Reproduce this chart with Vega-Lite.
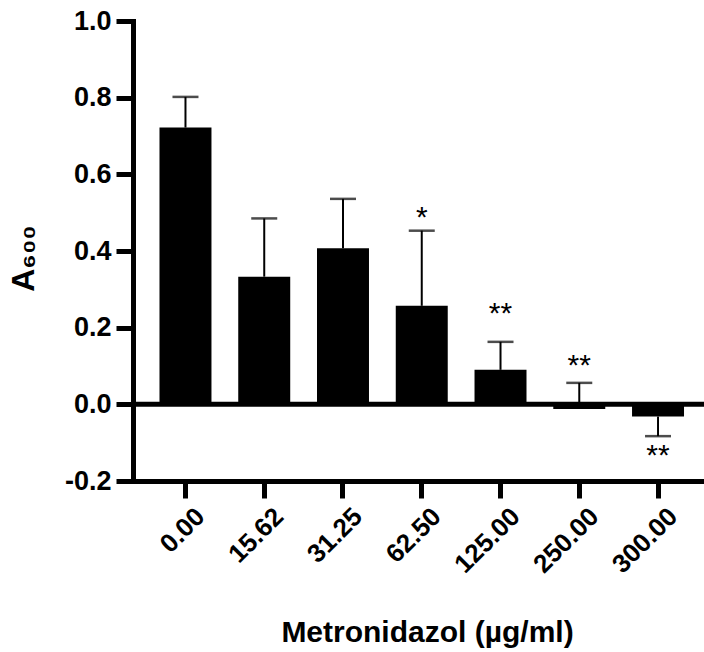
{
  "$schema": "https://vega.github.io/schema/vega-lite/v6.json",
  "autosize": {"type": "none"},
  "padding": {"left": 133, "top": 21, "right": 0, "bottom": 171},
  "width": 571,
  "height": 460,
  "background": "white",
  "config": {"view": {"stroke": null}, "font": "Liberation Sans"},
  "data": {"values": [
    {"conc": "0.00", "mean": 0.722, "err": 0.802, "sig": "", "sigY": 0.9},
    {"conc": "15.62", "mean": 0.333, "err": 0.485, "sig": "", "sigY": 0.6},
    {"conc": "31.25", "mean": 0.407, "err": 0.536, "sig": "", "sigY": 0.6},
    {"conc": "62.50", "mean": 0.257, "err": 0.453, "sig": "*", "sigY": 0.462},
    {"conc": "125.00", "mean": 0.09, "err": 0.163, "sig": "**", "sigY": 0.211},
    {"conc": "250.00", "mean": -0.012, "err": 0.056, "sig": "**", "sigY": 0.076},
    {"conc": "300.00", "mean": -0.032, "err": -0.083, "sig": "**", "sigY": -0.157}
  ]},
  "layer": [
    {
      "mark": {"type": "bar", "color": "#000000"},
      "encoding": {
        "x": {
          "field": "conc", "type": "nominal", "sort": null,
          "scale": {"paddingInner": 0.34, "paddingOuter": 0.295, "align": 0.57},
          "axis": {
            "orient": "bottom",
            "title": "Metronidazol (µg/ml)",
            "titleFontSize": 30, "titleFontWeight": "bold", "titleColor": "#000000",
            "titleX": 294, "titleY": 160, "titleBaseline": "alphabetic", "titleAlign": "center", "titleAngle": 0,
            "labelAngle": -45, "labelAlign": "right", "labelBaseline": "top",
            "labelFontSize": 26, "labelFontWeight": "bold", "labelColor": "#000000", "labelPadding": 5, "labelOffset": 6,
            "domainColor": "#000000", "domainWidth": 5, "domainCap": "square",
            "tickColor": "#000000", "tickWidth": 5, "tickSize": 17, "grid": false
          }
        },
        "y": {
          "field": "mean", "type": "quantitative",
          "scale": {"domain": [-0.2, 1.0], "nice": false, "zero": false},
          "axis": {
            "values": [-0.2, 0, 0.2, 0.4, 0.6, 0.8, 1.0],
            "format": ".1f",
            "labelExpr": "replace(datum.label, '\u2212', '-')",
            "title": "A₆₀₀",
            "titleFontSize": 32, "titleFontWeight": "bold", "titleColor": "#000000",
            "titleX": -100, "titleY": 237, "titleAngle": -90, "titleBaseline": "alphabetic", "titleAlign": "center",
            "labelFontSize": 27, "labelFontWeight": "bold", "labelColor": "#000000", "labelPadding": 5,
            "domainColor": "#000000", "domainWidth": 5, "domainCap": "square",
            "tickColor": "#000000", "tickWidth": 5, "tickSize": 17, "grid": false
          }
        }
      }
    },
    {
      "mark": {"type": "rule", "color": "#000000", "strokeWidth": 2},
      "encoding": {
        "x": {"field": "conc", "type": "nominal", "sort": null},
        "y": {"field": "mean", "type": "quantitative"},
        "y2": {"field": "err"}
      }
    },
    {
      "mark": {"type": "tick", "color": "#000000", "size": 26, "thickness": 2.5},
      "encoding": {
        "x": {"field": "conc", "type": "nominal", "sort": null},
        "y": {"field": "err", "type": "quantitative"}
      }
    },
    {
      "data": {"values": [{"z": 0}]},
      "mark": {"type": "rule", "color": "#000000", "strokeWidth": 5},
      "encoding": {
        "y": {"field": "z", "type": "quantitative"}
      }
    },
    {
      "mark": {"type": "text", "color": "#000000", "fontSize": 30, "baseline": "alphabetic", "align": "center"},
      "encoding": {
        "x": {"field": "conc", "type": "nominal", "sort": null},
        "y": {"field": "sigY", "type": "quantitative"},
        "text": {"field": "sig"}
      }
    }
  ]
}
